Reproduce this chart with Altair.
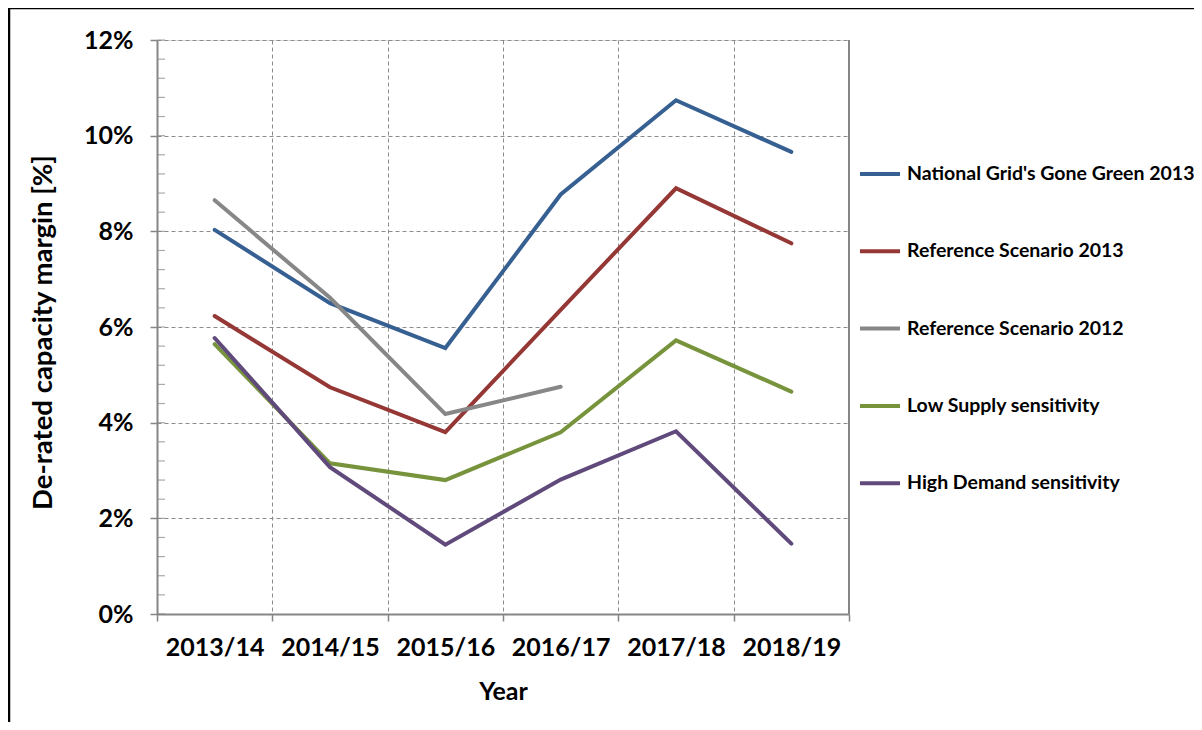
import altair as alt
import pandas as pd

years = ["2013/14", "2014/15", "2015/16", "2016/17", "2017/18", "2018/19"]
series_names = [
    "National Grid's Gone Green 2013",
    "Reference Scenario 2013",
    "Reference Scenario 2012",
    "Low Supply sensitivity",
    "High Demand sensitivity",
]
gone_green = [8.03, 6.50, 5.56, 8.77, 10.74, 9.66]
ref_2013 = [6.23, 4.74, 3.80, 6.36, 8.90, 7.75]
ref_2012 = [8.65, 6.61, 4.18, 4.75, None, None]
low_supply = [5.64, 3.15, 2.80, 3.80, 5.72, 4.65]
high_demand = [5.77, 3.07, 1.45, 2.81, 3.82, 1.47]
series_colors = ["#376092", "#953735", "#878787", "#77933C", "#604A7B"]

y_major = [0, 2, 4, 6, 8, 10, 12]
y_minor = [0, 0.4, 0.8, 1.2, 1.6, 2, 2.4, 2.8, 3.2, 3.6, 4, 4.4, 4.8, 5.2, 5.6, 6,
           6.4, 6.8, 7.2, 7.6, 8, 8.4, 8.8, 9.2, 9.6, 10, 10.4, 10.8, 11.2, 11.6, 12]

rows = []
for name, vals in zip(series_names, [gone_green, ref_2013, ref_2012, low_supply, high_demand]):
    for yr, v in zip(years, vals):
        if v is not None:
            rows.append({"series": name, "year": yr, "value": v})
df = pd.DataFrame(rows)

W, H = 692, 574
FONT = "Lato"
GRID = "#8c8c8c"
AXIS = "#868686"

x_enc = alt.X(
    "year:N",
    sort=years,
    bandPosition=0.5,
    scale=alt.Scale(type="band", domain=years, paddingInner=0, paddingOuter=0),
    axis=alt.Axis(
        title="Year",
        tickBand="extent",
        labelAngle=0,
        labelFont=FONT, labelFontSize=25, labelFontWeight="bold", labelColor="black",
        labelPadding=14,
        tickSize=7, tickColor=AXIS, tickWidth=1.5,
        domainColor=AXIS, domainWidth=2,
        grid=True, gridColor=GRID, gridDash=[4, 3], gridWidth=1,
        titleFont=FONT, titleFontSize=25, titleFontWeight="bold", titleColor="black",
        titleY=77, titleBaseline="middle",
    ),
)

y_enc = alt.Y(
    "value:Q",
    scale=alt.Scale(domain=[0, 12], nice=False),
    axis=alt.Axis(
        title="De-rated capacity margin [%]",
        values=y_major,
        labelExpr="datum.value + '%'",
        labelFont=FONT, labelFontSize=25, labelFontWeight="bold", labelColor="black",
        labelPadding=17,
        tickSize=7, tickColor=AXIS, tickWidth=1.5,
        domainColor=AXIS, domainWidth=2,
        grid=True, gridColor=GRID, gridDash=[4, 3], gridWidth=1,
        titleFont=FONT, titleFontSize=27.5, titleFontWeight="bold", titleColor="black",
        titleX=-114, titleY=292, titleAngle=-90, titleBaseline="middle",
    ),
)

lines = alt.Chart(df).mark_line(strokeWidth=4, strokeCap="round", strokeJoin="miter").encode(
    x=x_enc,
    y=y_enc,
    color=alt.Color(
        "series:N",
        sort=series_names,
        scale=alt.Scale(domain=series_names, range=series_colors),
        legend=alt.Legend(
            title=None, orient="none", legendX=701, legendY=112, padding=0,
            symbolType="stroke", symbolSize=1600, symbolStrokeWidth=4,
            rowPadding=45.3, labelOffset=5,
            labelFont=FONT, labelFontSize=19.5, labelFontWeight="bold", labelColor="black",
            labelLimit=400,
        ),
    ),
    detail="series:N",
)

minor_df = pd.DataFrame({"value": y_minor})
minor_ticks = alt.Chart(minor_df).mark_tick(orient="horizontal", color=AXIS, thickness=1.2, size=8).encode(
    y=y_enc,
    x=alt.value(4),
)

one = pd.DataFrame({"a": [0]})
right_edge = alt.Chart(one).mark_rule(color=AXIS, strokeWidth=2).encode(
    x=alt.value(W), y=alt.value(0), y2=alt.value(H)
)
frame_left = alt.Chart(one).mark_rule(color="black", strokeWidth=2.5).encode(
    x=alt.value(-148), y=alt.value(-32), y2=alt.value(H + 108)
)
frame_top = alt.Chart(one).mark_rule(color="black", strokeWidth=2.5).encode(
    x=alt.value(-149), x2=alt.value(W + 345), y=alt.value(-32)
)

chart = alt.layer(lines, minor_ticks, right_edge, frame_left, frame_top).properties(
    width=W, height=H,
    autosize=alt.AutoSizeParams(type="none"),
    padding={"left": 149, "top": 32, "right": 345, "bottom": 108},
).configure_view(stroke=None).configure(background="white")

chart.save("out.html", embed_options={"renderer": "svg", "actions": False})
